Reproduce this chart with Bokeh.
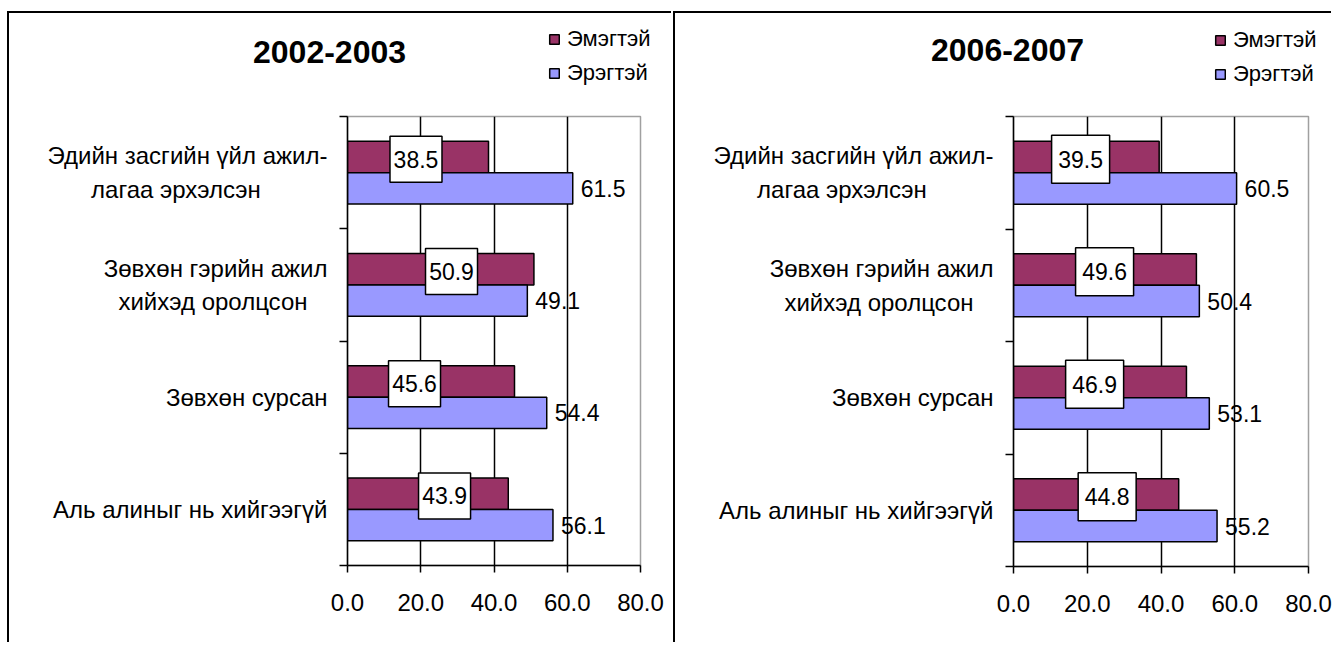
from bokeh.plotting import figure
from bokeh.models import (Range1d, FixedTicker, PrintfTickFormatter, Label,
                          Legend, LegendItem, ColumnDataSource)
from bokeh.layouts import row, column
from bokeh.embed import file_html
from bokeh.resources import INLINE
from bokeh.core.properties import value

# ---------------- data ----------------
categories = [
    "Эдийн засгийн үйл ажил-\nлагаа эрхэлсэн",
    "Зөвхөн гэрийн ажил\nхийхэд оролцсон",
    "Зөвхөн сурсан",
    "Аль алиныг нь хийгээгүй",
]
series_names = ["Эмэгтэй", "Эрэгтэй"]
periods = ["2002-2003", "2006-2007"]
female_2002 = [38.5, 50.9, 45.6, 43.9]
male_2002 = [61.5, 49.1, 54.4, 56.1]
female_2006 = [39.5, 49.6, 46.9, 44.8]
male_2006 = [60.5, 50.4, 53.1, 55.2]
x_ticks = [0, 20, 40, 60, 80]

# ---------------- layout / style (not data) ----------------
FONT = "Liberation Sans"
C_F = "#993366"
C_M = "#9999FF"
box_label_x_2002 = [18.7, 28.4, 18.3, 26.5]   # hand-placed label boxes
box_label_x_2006 = [18.2, 24.7, 22.0, 25.4]
BOX_DY = -0.02
HEADER_H = 87
# trailing no-break spaces that centre the 2nd line of a wrapped category label
line_pad = [10, 3, 0, 0]

panels = [
    dict(period=periods[0], female=female_2002, male=male_2002, box_x=box_label_x_2002,
         box_w=52, box_h=46, width=664, mb_left=338, frame_w=291, mb_right=35,
         frame_h=449, mb_bottom=77, title_xy=(320, 38), leg_xy=(539, 17)),
    dict(period=periods[1], female=female_2006, male=male_2006, box_x=box_label_x_2006,
         box_w=58, box_h=48, width=658, mb_left=338, frame_w=293, mb_right=27,
         frame_h=450, mb_bottom=76, title_xy=(332, 36), leg_xy=(539, 18)),
]


def padded(label, pad):
    return label + "\u00a0" * pad if pad else label


def make_header(cfg):
    W, H = cfg["width"], HEADER_H
    h = figure(width=W, height=H, x_range=Range1d(0, W), y_range=Range1d(H, 0),
               x_axis_location=None, y_axis_location=None, frame_align=False,
               min_border_left=0, min_border_right=0, min_border_top=0,
               min_border_bottom=0, output_backend="svg", toolbar_location=None,
               background_fill_color="white", border_fill_color="white",
               styles={"border-top": "2px solid black",
                       "border-left": "2px solid black"})
    h.outline_line_color = None
    h.grid.visible = False
    # legend proxies: degenerate (zero-size) bars carrying the series styles
    proxy = ColumnDataSource(dict(y=[0], l=[0], r=[0]))
    r_f = h.hbar(y="y", left="l", right="r", height=0, source=proxy,
                 fill_color=C_F, line_color="black", line_width=1.5)
    r_m = h.hbar(y="y", left="l", right="r", height=0, source=proxy,
                 fill_color=C_M, line_color="black", line_width=1.5)
    tx, ty = cfg["title_xy"]
    h.add_layout(Label(x=tx, y=ty, text=cfg["period"],
                       text_align="center", text_baseline="middle",
                       text_font=FONT, text_font_size="32px",
                       text_font_style="bold", text_color="black"))
    lx, ly = cfg["leg_xy"]
    lh, sp = 24, 8
    leg_h = 2 * lh + sp
    legend = Legend(items=[LegendItem(label=series_names[0], renderers=[r_f]),
                           LegendItem(label=series_names[1], renderers=[r_m])],
                    location=(lx, H - ly - leg_h),
                    orientation="vertical", padding=0, margin=0, spacing=sp,
                    glyph_width=12, glyph_height=12, label_height=lh,
                    label_standoff=7, border_line_alpha=0,
                    background_fill_alpha=0,
                    label_text_font=FONT, label_text_font_size="22px",
                    label_text_color="black")
    h.add_layout(legend)
    return h


def make_chart(cfg):
    n = len(categories)
    cat_y = [n - 0.5 - i for i in range(n)]
    f_y = [c + 0.14 for c in cat_y]
    m_y = [c - 0.14 for c in cat_y]

    p = figure(frame_width=cfg["frame_w"], frame_height=cfg["frame_h"],
               min_border_left=cfg["mb_left"], min_border_right=cfg["mb_right"],
               min_border_top=18, min_border_bottom=cfg["mb_bottom"],
               frame_align=False,
               x_range=Range1d(x_ticks[0], x_ticks[-1]), y_range=Range1d(0, n),
               output_backend="svg", toolbar_location=None,
               background_fill_color="white", border_fill_color="white",
               styles={"border-left": "2px solid black"})

    p.outline_line_color = "#A0A0A0"
    p.outline_line_width = 1.5

    # grid
    p.ygrid.visible = False
    p.xgrid.ticker = FixedTicker(ticks=x_ticks[1:-1])
    p.xgrid.grid_line_color = "black"
    p.xgrid.grid_line_width = 1.5

    # bars
    src_f = ColumnDataSource(dict(y=f_y, v=cfg["female"]))
    src_m = ColumnDataSource(dict(y=m_y, v=cfg["male"]))
    p.hbar(y="y", right="v", left=0, height=0.28, source=src_f,
           fill_color=C_F, line_color="black", line_width=1.5)
    p.hbar(y="y", right="v", left=0, height=0.28, source=src_m,
           fill_color=C_M, line_color="black", line_width=1.5)

    # male value labels
    p.text(x=cfg["male"], y=m_y, text=[f"{v:.1f}" for v in cfg["male"]],
           x_offset=8, text_align="left", text_baseline="middle",
           text_font=value(FONT), text_font_size="23px", text_color="black")

    # female value labels in white boxes
    box_y = [y + BOX_DY for y in f_y]
    p.rect(x=cfg["box_x"], y=box_y, width=cfg["box_w"], height=cfg["box_h"],
           width_units="screen", height_units="screen",
           fill_color="white", line_color="black", line_width=1.5)
    p.text(x=cfg["box_x"], y=box_y, text=[f"{v:.1f}" for v in cfg["female"]],
           text_align="center", text_baseline="middle",
           text_font=value(FONT), text_font_size="23px", text_color="black")

    # x axis
    xa = p.xaxis[0]
    xa.ticker = FixedTicker(ticks=x_ticks, minor_ticks=[])
    xa.formatter = PrintfTickFormatter(format="%.1f")
    xa.axis_line_color = "black"
    xa.axis_line_width = 1.5
    xa.major_tick_out = 7
    xa.major_tick_in = 0
    xa.major_tick_line_width = 1.5
    xa.minor_tick_out = 0
    xa.minor_tick_in = 0
    xa.major_label_standoff = 21
    xa.major_label_text_font = FONT
    xa.major_label_text_font_size = "24px"
    xa.major_label_text_color = "black"

    # y axis: labels at category centers, ticks at boundaries
    ya = p.yaxis[0]
    ya.ticker = FixedTicker(ticks=cat_y, minor_ticks=list(range(n + 1)))
    ya.major_label_overrides = {cy: padded(c, pd)
                                for cy, c, pd in zip(cat_y, categories, line_pad)}
    ya.axis_line_color = "black"
    ya.axis_line_width = 1.5
    ya.major_tick_out = 0
    ya.major_tick_in = 0
    ya.minor_tick_out = 8
    ya.minor_tick_in = 0
    ya.minor_tick_line_color = "black"
    ya.minor_tick_line_width = 1.5
    ya.major_label_standoff = 12
    ya.major_label_text_font = FONT
    ya.major_label_text_font_size = "24px"
    ya.major_label_text_color = "black"
    ya.major_label_text_line_height = 1.25
    return p


cols = [column(make_header(c), make_chart(c), spacing=0) for c in panels]
layout = row(*cols, spacing=0, styles={"margin-left": "7px", "margin-top": "11px"})
open("out.html", "w").write(file_html(layout, INLINE))
